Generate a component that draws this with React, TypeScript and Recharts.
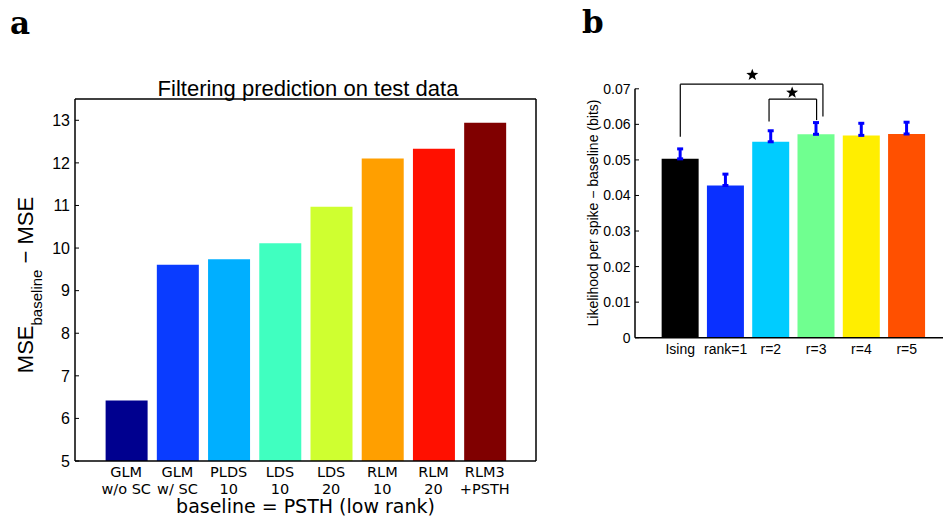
import React from 'react';
import { BarChart, Bar, XAxis, YAxis, Cell, ErrorBar, ReferenceLine, ReferenceDot } from 'recharts';

// ---------- Panel a data ----------
const leftLabels: string[][] = [
  ['GLM', 'w/o SC'],
  ['GLM', 'w/ SC'],
  ['PLDS', '10'],
  ['LDS', '10'],
  ['LDS', '20'],
  ['RLM', '10'],
  ['RLM', '20'],
  ['RLM3', '+PSTH'],
];
const leftValues = [6.42, 9.61, 9.74, 10.11, 10.97, 12.1, 12.33, 12.94];
const leftColors = ['#00008f', '#0a3cff', '#00afff', '#40ffc0', '#cfff30', '#ff9f00', '#ff1000', '#800000'];
const leftYTicks = [5, 6, 7, 8, 9, 10, 11, 12, 13];
const leftXTicks = [1, 2, 3, 4, 5, 6, 7, 8];

// ---------- Panel b data ----------
const rightLabels = ['Ising', 'rank=1', 'r=2', 'r=3', 'r=4', 'r=5'];
const rightValues = [0.0503, 0.0428, 0.0551, 0.0572, 0.0569, 0.0573];
const rightErrUp = [0.0028, 0.0032, 0.0031, 0.0033, 0.0034, 0.0033];
const rightColors = ['#000000', '#0a30ff', '#00ccff', '#70ff90', '#ffee00', '#ff5000'];
const rightYTicks = [0, 0.01, 0.02, 0.03, 0.04, 0.05, 0.06, 0.07];
const rightXTicks = [1, 2, 3, 4, 5, 6];

// significance brackets (data coordinates)
const bracketFrom = [1, 2.96];
const bracketTo = [4.15, 4.01];
const bracketTop = [0.0713, 0.0671];
const bracketFromBottom = [0.0565, 0.0608];
const bracketToBottom = [0.0622, 0.0612];
const starX = [2.59, 3.47];
const starY = [0.0739, 0.0689];

const leftData = leftValues.map((v, i) => ({ x: i + 1, value: v }));
const rightData = rightValues.map((v, i) => ({ x: i + 1, value: v, err: [0, rightErrUp[i]] }));

const SANS = 'Liberation Sans, Arial, Helvetica, sans-serif';
const DEJAVU = 'DejaVu Sans, sans-serif';

const LeftTick = (props: any) => {
  const { x, y, payload } = props;
  const idx = Math.round(payload.value) - 1;
  const lines = leftLabels[idx] || ['', ''];
  return (
    <text x={x} y={y} textAnchor="middle" fontFamily={DEJAVU} fontSize={14.5} fill="#000">
      <tspan x={x} dy={7.5}>{lines[0]}</tspan>
      <tspan x={x} dy={17}>{lines[1]}</tspan>
    </text>
  );
};

const Star = (props: any) => {
  const { cx, cy } = props;
  const pts: string[] = [];
  for (let i = 0; i < 10; i++) {
    const r = i % 2 === 0 ? 6.3 : 2.6;
    const a = ((-90 + i * 36) * Math.PI) / 180;
    pts.push(`${cx + r * Math.cos(a)},${cy + r * Math.sin(a)}`);
  }
  return <polygon points={pts.join(' ')} fill="#000" />;
};

export default function App() {
  const axisStroke = { stroke: '#000', strokeWidth: 1.5 };
  const tickStroke = { stroke: '#000', strokeWidth: 1 };
  return (
    <div style={{ position: 'absolute', left: 0, top: 0, width: 943, height: 520, overflow: 'hidden', background: '#fff' }}>
      {/* Panel a */}
      <div style={{ position: 'absolute', left: 0, top: 0 }}>
        <BarChart width={560} height={520} data={leftData} margin={{ top: 98, right: 23, bottom: 29, left: 35 }}>
          <XAxis
            xAxisId="b"
            type="number"
            dataKey="x"
            domain={[0, 9]}
            allowDataOverflow
            ticks={leftXTicks}
            interval={0}
            tickLine={false}
            axisLine={axisStroke}
            tick={<LeftTick />}
            height={30}
          />
          <XAxis
            xAxisId="t"
            orientation="top"
            type="number"
            dataKey="x"
            domain={[0, 9]}
            allowDataOverflow
            ticks={leftXTicks}
            interval={0}
            tick={false}
            tickSize={-4}
            tickLine={tickStroke}
            axisLine={axisStroke}
            height={1}
          />
          <YAxis
            yAxisId="l"
            type="number"
            domain={[5, 13.5]}
            allowDataOverflow
            ticks={leftYTicks}
            interval={0}
            tickSize={-4}
            tickMargin={9}
            tickLine={tickStroke}
            axisLine={axisStroke}
            tick={{ fontSize: 16, fontFamily: SANS, fill: '#000' }}
            width={40}
          />
          <YAxis
            yAxisId="r"
            orientation="right"
            type="number"
            domain={[5, 13.5]}
            allowDataOverflow
            ticks={leftYTicks}
            interval={0}
            tick={false}
            tickSize={-4}
            tickLine={tickStroke}
            axisLine={axisStroke}
            width={1}
          />
          <Bar xAxisId="b" yAxisId="l" dataKey="value" barSize={42} isAnimationActive={false}>
            {leftData.map((d, i) => (
              <Cell key={i} fill={leftColors[i]} />
            ))}
          </Bar>
        </BarChart>
      </div>

      {/* Panel b */}
      <div style={{ position: 'absolute', left: 570, top: 0 }}>
        <BarChart width={400} height={400} data={rightData} margin={{ top: 88.8, right: 18, bottom: 32.3, left: 20 }}>
          <XAxis
            type="number"
            dataKey="x"
            domain={[0, 7]}
            allowDataOverflow
            ticks={rightXTicks}
            interval={0}
            tickLine={false}
            tickMargin={0}
            axisLine={axisStroke}
            tick={{ fontSize: 14, fontFamily: SANS, fill: '#000' }}
            tickFormatter={(v: number) => rightLabels[Math.round(v) - 1] || ''}
            height={30}
          />
          <YAxis
            type="number"
            domain={[0, 0.07]}
            allowDataOverflow
            ticks={rightYTicks}
            interval={0}
            tickSize={-4}
            tickMargin={8.5}
            tickLine={tickStroke}
            axisLine={axisStroke}
            tick={{ fontSize: 14, fontFamily: SANS, fill: '#000' }}
            tickFormatter={(v: number) => (v === 0 ? '0' : v.toFixed(2))}
            width={45}
          />
          <Bar dataKey="value" barSize={37} isAnimationActive={false}>
            {rightData.map((d, i) => (
              <Cell key={i} fill={rightColors[i]} />
            ))}
            <ErrorBar dataKey="err" direction="y" width={3} stroke="#0000ff" strokeWidth={3} isAnimationActive={false} />
          </Bar>
          {bracketFrom.map((f, i) => (
            <ReferenceLine
              key={'bl' + i}
              segment={[{ x: f, y: bracketFromBottom[i] }, { x: f, y: bracketTop[i] }]}
              ifOverflow="visible"
              stroke="#000"
              strokeWidth={1.2}
            />
          ))}
          {bracketFrom.map((f, i) => (
            <ReferenceLine
              key={'bt' + i}
              segment={[{ x: f, y: bracketTop[i] }, { x: bracketTo[i], y: bracketTop[i] }]}
              ifOverflow="visible"
              stroke="#000"
              strokeWidth={1.2}
            />
          ))}
          {bracketTo.map((t, i) => (
            <ReferenceLine
              key={'br' + i}
              segment={[{ x: t, y: bracketTop[i] }, { x: t, y: bracketToBottom[i] }]}
              ifOverflow="visible"
              stroke="#000"
              strokeWidth={1.2}
            />
          ))}
          {starX.map((sx, i) => (
            <ReferenceDot key={'s' + i} x={sx} y={starY[i]} ifOverflow="visible" shape={Star} />
          ))}
        </BarChart>
      </div>

      {/* Text overlay */}
      <svg width={943} height={520} style={{ position: 'absolute', left: 0, top: 0, pointerEvents: 'none' }}>
        <text x={10} y={34} fontFamily="DejaVu Serif, serif" fontWeight="bold" fontSize={31} fill="#000">a</text>
        <text x={582} y={33} fontFamily="DejaVu Serif, serif" fontWeight="bold" fontSize={31} fill="#000">b</text>
        <text x={308} y={96} textAnchor="middle" fontFamily={SANS} fontSize={22} fill="#000">
          Filtering prediction on test data
        </text>
        <text x={305.5} y={513} textAnchor="middle" fontFamily={DEJAVU} fontSize={19} fill="#000">
          baseline = PSTH (low rank)
        </text>
        <text transform="translate(33,285) rotate(-90)" textAnchor="middle" fontFamily={SANS} fontSize={22} fill="#000">
          MSE
          <tspan fontSize={15} dy={9}>baseline</tspan>
          <tspan dy={-9}> − MSE</tspan>
        </text>
        <text transform="translate(597.5,213) rotate(-90)" textAnchor="middle" fontFamily={SANS} fontSize={14} fill="#000">
          Likelihood per spike − baseline (bits)
        </text>
      </svg>
    </div>
  );
}
